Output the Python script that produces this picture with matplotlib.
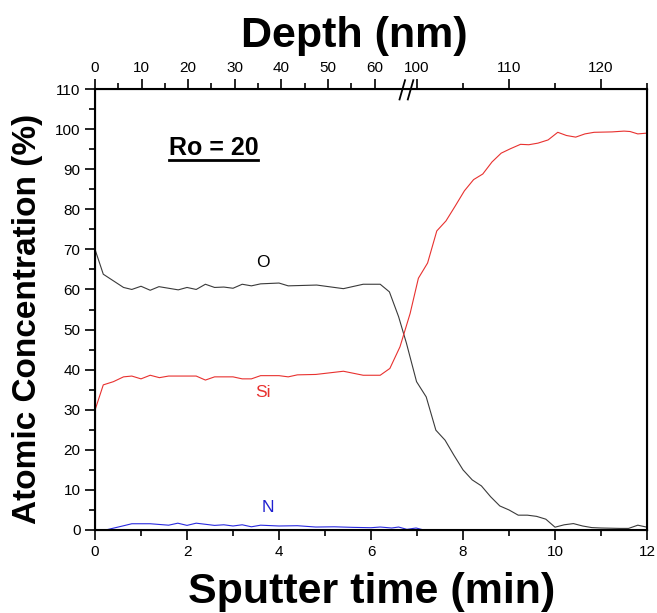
import matplotlib.pyplot as plt
from matplotlib.lines import Line2D
from matplotlib.ticker import MultipleLocator, FixedLocator

plt.rcParams['font.family'] = ['Liberation Sans', 'DejaVu Sans']

# O profile
t_o = [0, 0.18, 0.62, 0.8, 1.0, 1.2, 1.39, 1.81, 2.0, 2.2, 2.4, 2.6, 2.8, 3.0, 3.2, 3.4,
       3.6, 4.0, 4.2, 4.82, 5.4, 5.83, 6.2, 6.4, 6.6, 6.77, 6.99, 7.2, 7.41, 7.61, 7.8,
       8.0, 8.2, 8.4, 8.6, 8.8, 9.0, 9.2, 9.4, 9.6, 9.8, 10.0, 10.2, 10.4, 10.6, 10.8,
       11.0, 11.4, 11.6, 11.8, 12.0]
o_conc = [70, 63.8, 60.5, 60.0, 60.8, 59.8, 60.7, 59.9, 60.5, 60.0, 61.3, 60.5, 60.6, 60.3,
          61.3, 60.9, 61.4, 61.6, 60.9, 61.1, 60.2, 61.3, 61.3, 59.4, 53.2, 46.6, 37.0, 33.2,
          24.9, 22.4, 18.7, 15.0, 12.5, 11.0, 8.3, 6.0, 5.0, 3.7, 3.7, 3.4, 2.7, 0.7, 1.3,
          1.6, 1.0, 0.6, 0.5, 0.4, 0.4, 1.2, 0.7]

# Si profile
t_si = [0, 0.18, 0.4, 0.62, 0.8, 1.0, 1.2, 1.4, 1.6, 2.2, 2.4, 2.6, 3.0, 3.2, 3.4, 3.6,
        4.0, 4.2, 4.4, 4.8, 5.4, 5.83, 6.2, 6.41, 6.63, 6.85, 7.03, 7.23, 7.43, 7.63, 7.83,
        8.03, 8.23, 8.43, 8.63, 8.83, 9.03, 9.25, 9.43, 9.63, 9.85, 10.06, 10.25, 10.45,
        10.65, 10.85, 11.24, 11.5, 11.63, 11.8, 12.0]
si_conc = [29.9, 36.2, 37.0, 38.2, 38.4, 37.7, 38.6, 38.0, 38.4, 38.4, 37.4, 38.2, 38.2, 37.7,
           37.7, 38.5, 38.5, 38.2, 38.7, 38.8, 39.6, 38.6, 38.6, 40.3, 45.7, 54.0, 62.8, 66.6,
           74.6, 77.1, 80.8, 84.6, 87.4, 88.8, 91.8, 94.0, 95.1, 96.2, 96.1, 96.5, 97.3, 99.2,
           98.4, 98.0, 98.8, 99.2, 99.3, 99.5, 99.4, 98.8, 99.0]

# N profile
t_n = [0.23, 0.6, 0.8, 1.2, 1.6, 1.8, 2.0, 2.2, 2.6, 2.8, 3.0, 3.2, 3.4, 3.6, 4.0, 4.4,
       4.8, 5.2, 5.6, 6.0, 6.2, 6.45, 6.6, 6.78, 6.98, 7.15, 12.0]
n_conc = [0, 1.0, 1.56, 1.56, 1.2, 1.7, 1.15, 1.7, 1.15, 1.3, 1.0, 1.3, 0.8, 1.2, 1.0, 1.07,
          0.74, 0.8, 0.66, 0.57, 0.74, 0.5, 0.74, 0.16, 0.5, 0, 0]

# top axis: depth (nm), broken between 60 and 100
depth_major = [0, 10, 20, 30, 40, 50, 60, 100, 110, 120]
depth_minor = [5, 15, 25, 35, 45, 55, 105, 115, 125]


def depth_to_time(d):
    if d <= 70:
        return d * 0.1013
    return 7 + (d - 100) / 5.0


fig = plt.figure(figsize=(6.57, 6.13), dpi=100)
ax = fig.add_axes([0.1446, 0.1354, 0.8402, 0.7194])

ax.plot(t_o, o_conc, color='#3a3a3a', lw=0.8)
ax.plot(t_si, si_conc, color='#e8312f', lw=0.8)
ax.plot(t_n, n_conc, color='#2a2ae0', lw=0.8)

ax.set_xlim(0, 12)
ax.set_ylim(0, 110)
ax.xaxis.set_major_locator(MultipleLocator(2))
ax.xaxis.set_minor_locator(MultipleLocator(1))
ax.yaxis.set_major_locator(MultipleLocator(10))
ax.yaxis.set_minor_locator(MultipleLocator(5))
ax.tick_params(which='both', direction='out', width=1.2, labelsize=11, top=False, right=False)
ax.tick_params(which='major', length=7)
ax.tick_params(which='minor', length=4)
for s in ax.spines.values():
    s.set_linewidth(1.5)

# top depth axis
top = ax.twiny()
top.set_xlim(0, 12)
top.xaxis.set_major_locator(FixedLocator([depth_to_time(d) for d in depth_major]))
top.xaxis.set_minor_locator(FixedLocator([depth_to_time(d) for d in depth_minor]))
top.set_xticklabels([str(d) for d in depth_major])
top.tick_params(which='both', direction='out', width=1.2, labelsize=11)
top.tick_params(which='major', length=7, pad=3)
top.tick_params(which='minor', length=4)

# axis titles
fig.text(354 / 657, 1 - 47 / 613, 'Depth (nm)', fontsize=31, fontweight='bold',
         ha='center', va='baseline')
fig.text(372 / 657, 1 - 603 / 613, 'Sputter time (min)', fontsize=31, fontweight='bold',
         ha='center', va='baseline')
fig.text(28 / 657, 1 - 319 / 613, 'Atomic Concentration (%)', fontsize=24, fontweight='bold',
         ha='center', va='center', rotation=90)

# axis break marks
for xb in (6.68, 6.86):
    ax.plot([xb - 0.06, xb + 0.06], [107.4, 112.2], color='black', lw=1.3,
            clip_on=False, zorder=5)

ax.text(3.65, 66.6, 'O', fontsize=12.5, color='black', ha='center', va='center')
ax.text(3.65, 34.4, 'Si', fontsize=12.5, color='#e8312f', ha='center', va='center')
ax.text(3.76, 5.5, 'N', fontsize=12.5, color='#2020d0', ha='center', va='center')

ax.text(1.61, 95.4, 'Ro = 20', fontsize=18, fontweight='bold', ha='left', va='center')
ax.add_line(Line2D([1.61, 3.54], [92.3, 92.3], color='black', lw=2, clip_on=False))

fig.savefig('out.png', dpi=100)
